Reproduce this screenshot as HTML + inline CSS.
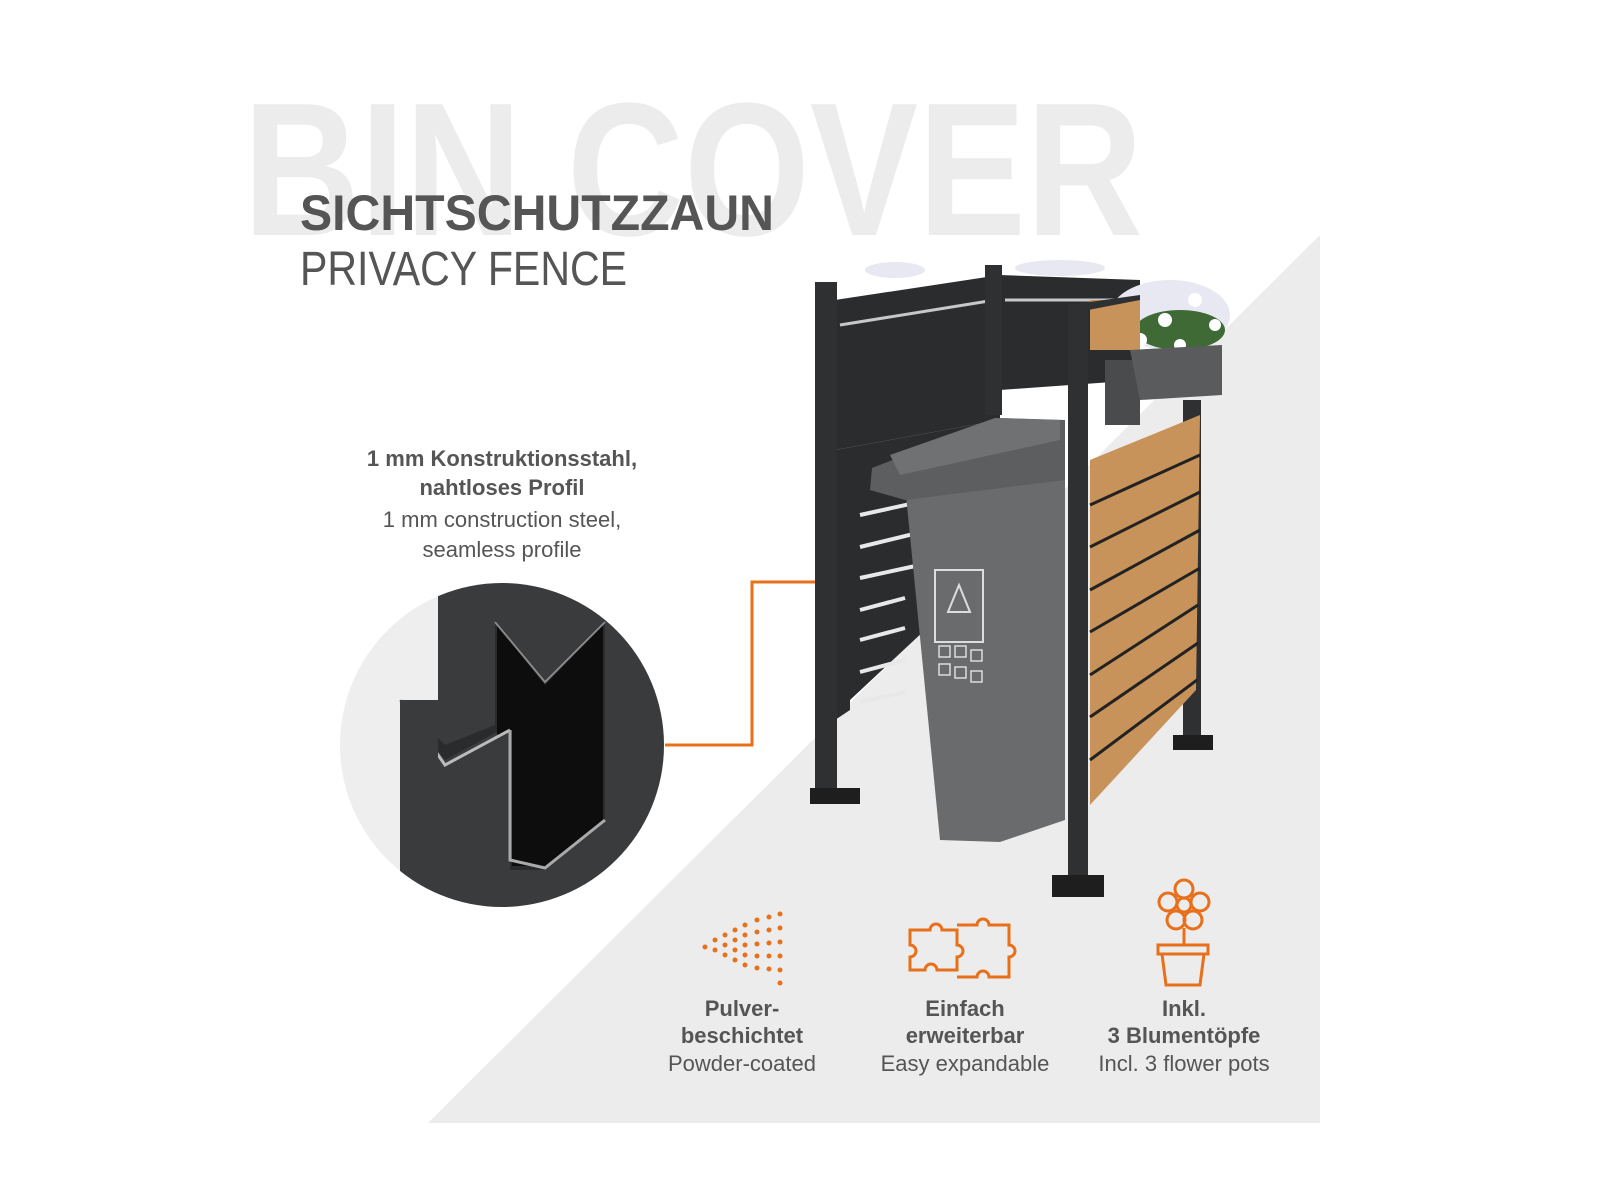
<!DOCTYPE html>
<html><head><meta charset="utf-8"><style>
html,body{margin:0;padding:0;background:#fff;}
svg{display:block;}
text{font-family:"Liberation Sans",sans-serif;}
</style></head><body>
<svg width="1600" height="1200" viewBox="0 0 1600 1200" xmlns="http://www.w3.org/2000/svg">
<rect width="1600" height="1200" fill="#fff"/>
<text x="243" y="235" font-size="190" font-weight="bold" fill="#ececec" textLength="900" lengthAdjust="spacingAndGlyphs">BIN COVER</text>
<polygon points="1320,235 1320,1123 428,1123" fill="#ececec"/>
<text x="300" y="230" font-size="50" font-weight="bold" fill="#555" textLength="474" lengthAdjust="spacingAndGlyphs">SICHTSCHUTZZAUN</text>
<text x="300" y="285" font-size="48" fill="#555" textLength="327" lengthAdjust="spacingAndGlyphs">PRIVACY FENCE</text>

<g fill="#555" text-anchor="middle" font-size="22">
<text x="502" y="466" font-weight="bold">1 mm Konstruktionsstahl,</text>
<text x="502" y="495" font-weight="bold">nahtloses Profil</text>
<text x="502" y="527">1 mm construction steel,</text>
<text x="502" y="557">seamless profile</text>
</g>

<!-- circle -->
<defs><clipPath id="c"><circle cx="502" cy="745" r="162"/></clipPath></defs>
<circle cx="502" cy="745" r="162" fill="#eeeeee"/>
<g clip-path="url(#c)">
<rect x="438" y="580" width="240" height="330" fill="#3a3b3d"/>
<polygon points="400,700 445,760 510,725 510,870 545,870 605,820 605,620 545,680 495,620 495,725 445,745 400,700" fill="#2a2b2d"/>
<polygon points="497,625 545,685 603,625 603,820 545,866 512,866 512,730 497,735" fill="#0d0d0e"/>
<polyline points="400,700 445,765 510,730" fill="none" stroke="#bbb" stroke-width="3"/>
<polyline points="495,622 545,682 605,622" fill="none" stroke="#888" stroke-width="2"/>
<polyline points="510,730 510,860 545,868 605,820" fill="none" stroke="#aaa" stroke-width="3"/>
<rect x="400" y="700" width="38" height="210" fill="#3a3b3d"/>
</g>

<!-- connector -->
<polyline points="858,582 752,582 752,745 665,745" fill="none" stroke="#e8701a" stroke-width="3"/>
<circle cx="858" cy="582" r="6" fill="#e8701a"/>

<!-- fence back panels -->
<polygon points="835,300 1000,275 1000,420 835,450" fill="#2b2c2e"/>
<polygon points="835,450 1000,420 1000,560 850,700 850,710 835,720" fill="#2b2c2e"/>
<polygon points="1000,275 1140,280 1140,380 1000,390" fill="#2b2c2e"/>
<g stroke="#e8e8e8" stroke-width="4">
<line x1="860" y1="515" x2="960" y2="493"/><line x1="860" y1="547" x2="930" y2="530"/>
<line x1="860" y1="578" x2="920" y2="565"/><line x1="860" y1="610" x2="905" y2="598"/>
<line x1="860" y1="640" x2="905" y2="628"/><line x1="860" y1="672" x2="905" y2="660"/>
<line x1="860" y1="702" x2="905" y2="692"/>
</g>
<g stroke="#c8c8c8" stroke-width="3"><line x1="840" y1="325" x2="995" y2="300"/><line x1="1005" y1="300" x2="1135" y2="300"/></g>
<!-- flowers -->
<g fill="#e8e8f2"><ellipse cx="895" cy="270" rx="30" ry="8"/><ellipse cx="1060" cy="268" rx="45" ry="8"/><ellipse cx="1170" cy="315" rx="60" ry="35"/></g>
<g fill="#3f6a35"><ellipse cx="1180" cy="330" rx="45" ry="20"/></g>
<g fill="#fff"><circle cx="1140" cy="340" r="7"/><circle cx="1165" cy="320" r="7"/><circle cx="1195" cy="300" r="7"/><circle cx="1215" cy="325" r="6"/><circle cx="1130" cy="310" r="6"/><circle cx="1180" cy="345" r="6"/></g>
<!-- posts -->
<rect x="815" y="282" width="22" height="510" fill="#2f3032"/>
<rect x="810" y="788" width="50" height="16" fill="#1e1e1f"/>
<rect x="985" y="265" width="17" height="150" fill="#2f3032"/>
<rect x="1183" y="400" width="18" height="340" fill="#2f3032"/>
<rect x="1173" y="735" width="40" height="15" fill="#1e1e1f"/>
<!-- wood panel -->
<polygon points="1090,460 1200,415 1196,690 1090,805" fill="#c8935a"/>
<g stroke="#222" stroke-width="3">
<line x1="1090" y1="505" x2="1200" y2="455"/><line x1="1090" y1="547" x2="1200" y2="492"/>
<line x1="1090" y1="590" x2="1200" y2="530"/><line x1="1090" y1="632" x2="1200" y2="568"/>
<line x1="1090" y1="675" x2="1198" y2="605"/><line x1="1090" y1="717" x2="1198" y2="643"/>
<line x1="1090" y1="760" x2="1197" y2="680"/>
</g>
<!-- planter -->
<polygon points="1090,300 1140,300 1140,350 1090,350" fill="#c8935a"/>
<rect x="1105" y="360" width="35" height="65" fill="#4a4b4d"/>
<polygon points="1130,350 1222,345 1222,395 1140,400" fill="#5a5b5d"/>
<!-- bin -->
<polygon points="905,485 1065,470 1065,820 1000,842 940,840" fill="#6a6b6d"/>
<polygon points="872,468 870,490 905,500 1065,480 1065,420 1000,418" fill="#5d5e60"/>
<polygon points="890,455 995,418 1060,420 1060,440 900,475" fill="#707173"/>
<rect x="935" y="570" width="48" height="72" fill="none" stroke="#ddd" stroke-width="2"/>
<polygon points="959,585 948,612 970,612" fill="none" stroke="#ddd" stroke-width="2"/>
<g fill="none" stroke="#ddd" stroke-width="1.5"><rect x="939" y="646" width="11" height="11"/><rect x="955" y="646" width="11" height="11"/><rect x="971" y="650" width="11" height="11"/><rect x="939" y="664" width="11" height="11"/><rect x="955" y="667" width="11" height="11"/><rect x="971" y="671" width="11" height="11"/></g>
<!-- front post -->
<polygon points="1068,305 1140,295 1140,300 1088,310 1088,890 1068,890" fill="#2f3032"/>
<rect x="1052" y="875" width="52" height="22" fill="#1e1e1f"/>

<!-- icons -->
<g fill="#e8701a">
<circle cx="705" cy="947" r="2.5"/>
<circle cx="715" cy="940" r="2.5"/><circle cx="715" cy="950" r="2.5"/>
<circle cx="725" cy="935" r="2.5"/><circle cx="725" cy="945" r="2.5"/><circle cx="725" cy="955" r="2.5"/>
<circle cx="735" cy="930" r="2.5"/><circle cx="735" cy="940" r="2.5"/><circle cx="735" cy="950" r="2.5"/><circle cx="735" cy="960" r="2.5"/>
<circle cx="745" cy="925" r="2.5"/><circle cx="745" cy="935" r="2.5"/><circle cx="745" cy="945" r="2.5"/><circle cx="745" cy="955" r="2.5"/><circle cx="745" cy="965" r="2.5"/>
<circle cx="757" cy="920" r="2.5"/><circle cx="757" cy="932" r="2.5"/><circle cx="757" cy="944" r="2.5"/><circle cx="757" cy="956" r="2.5"/><circle cx="757" cy="968" r="2.5"/>
<circle cx="769" cy="917" r="2.5"/><circle cx="769" cy="930" r="2.5"/><circle cx="769" cy="943" r="2.5"/><circle cx="769" cy="956" r="2.5"/><circle cx="769" cy="969" r="2.5"/>
<circle cx="780" cy="914" r="2.5"/><circle cx="780" cy="928" r="2.5"/><circle cx="780" cy="942" r="2.5"/><circle cx="780" cy="956" r="2.5"/><circle cx="780" cy="970" r="2.5"/><circle cx="780" cy="983" r="2.5"/>
</g>
<g fill="none" stroke="#e8701a" stroke-width="3">
<path d="M910,930 h20 a6,6 0 1 1 12,0 h15 v15 a6,6 0 1 1 0,12 v13 h-20 a6,6 0 1 0 -12,0 h-15 v-13 a6,6 0 1 0 0,-12z"/>
<path d="M957,925 h20 a6,6 0 1 1 12,0 h20 v20 a6,6 0 1 1 0,12 v20 h-20 a6,6 0 1 0 -12,0 h-20"/>
<circle cx="1184" cy="905" r="7"/>
<circle cx="1184" cy="889" r="9"/><circle cx="1200" cy="902" r="9"/><circle cx="1168" cy="902" r="9"/><circle cx="1176" cy="920" r="9"/><circle cx="1193" cy="920" r="9"/>
<line x1="1184" y1="928" x2="1184" y2="945"/>
<rect x="1158" y="945" width="50" height="9"/>
<polygon points="1162,954 1204,954 1200,985 1166,985"/>
</g>
<g fill="#555" text-anchor="middle" font-size="22">
<text x="742" y="1016" font-weight="bold">Pulver-</text>
<text x="742" y="1043" font-weight="bold">beschichtet</text>
<text x="742" y="1071">Powder-coated</text>
<text x="965" y="1016" font-weight="bold">Einfach</text>
<text x="965" y="1043" font-weight="bold">erweiterbar</text>
<text x="965" y="1071">Easy expandable</text>
<text x="1184" y="1016" font-weight="bold">Inkl.</text>
<text x="1184" y="1043" font-weight="bold">3 Blumentöpfe</text>
<text x="1184" y="1071">Incl. 3 flower pots</text>
</g>
</svg>
</body></html>
